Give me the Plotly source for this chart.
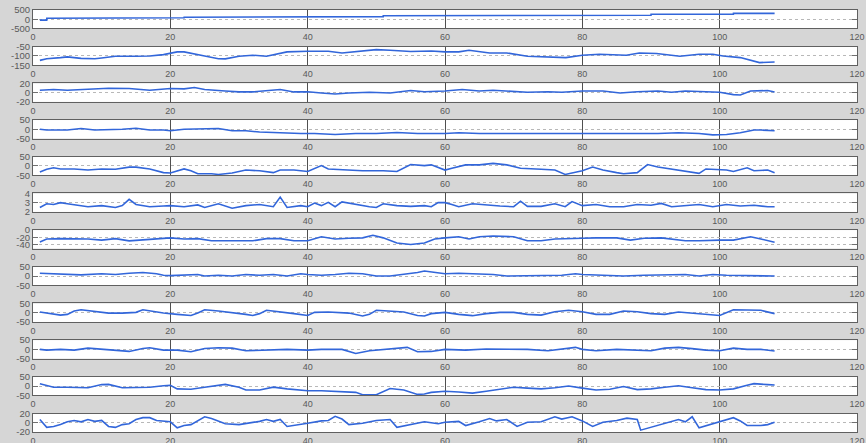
import plotly.graph_objects as go
from plotly.subplots import make_subplots

# ---------------- data ----------------
x1 = [1, 2, 2.01, 8, 8.01, 22, 22.01, 35, 35.01, 51, 51.01, 65, 65.01, 90, 90.01, 102, 102.01, 108]
y1 = [-50, -50, 50, 50, 80, 80, 110, 110, 140, 140, 190, 190, 220, 220, 270, 270, 320, 320]

x2 = [1, 2, 4, 5, 7, 9, 10, 12, 15, 17, 19, 20, 21, 22, 23, 25, 27, 28, 30, 32, 34, 36, 37, 40, 43, 45, 48, 50, 52, 55, 58, 60,
      62, 63.5, 66.5, 69, 72, 75, 77.6, 80, 82.5, 86.4, 88.3, 90.8, 94.2, 97, 99, 100.5, 103, 105.8, 108]
y2 = [-124, -115, -109, -105, -113, -115, -111, -102, -102, -100, -93, -84, -78, -78, -84, -100, -115, -116, -102, -96, -102, -87, -78, -75, -75, -84, -73, -66, -69, -76, -73, -78,
      -78, -69, -84, -84, -102, -105, -109, -96, -91, -96, -84, -87, -102, -91, -91, -100, -109, -136, -133]

x3 = [1, 3, 5, 8, 11, 14, 17, 20, 22, 23.5, 25, 28, 30, 32, 34, 36, 38, 40, 42, 44, 46, 49, 52, 55, 57, 60,
      62.5, 65, 67, 70, 72, 75, 77, 80, 83, 85.5, 88, 91, 93, 95, 98, 100, 102, 103, 104.5, 107, 108]
y3 = [5, 6.6, 5, 6.6, 9.5, 8.8, 5, 8.8, 8, 11, 6.6, 3.6, 1.5, 1.5, 3.6, 6.6, 1.5, 2, -0.7, -3, -0.7, 0.7, -0.7, 4.4, 2, 3.6,
      6.6, 3.6, 5, 3, 0.7, 2, 0.7, 3.6, 3.6, -0.7, 2, 3.6, 0.7, 3.6, 1.5, 0.7, -4.4, -5, 3.6, 4.4, 1.5]

x4 = [1, 2, 5, 7, 9, 11, 13, 15, 17, 19, 20, 22, 25, 27, 29, 31, 33, 35, 37, 39, 41, 44, 47, 50, 53, 56, 60,
      62, 65, 70, 75, 80, 85, 88, 91, 94, 97, 99, 101, 103, 105, 106, 107, 108]
y4 = [0, -4, -4, 4, -4, -4, 0, 6, -4, -4, -8, 0, 4, 4, -8, -8, -15, -19, -19, -23, -23, -28, -23, -23, -17, -23, -23,
      -19, -23, -23, -23, -23, -23, -27, -23, -19, -23, -30, -28, -19, -4, -4, -8, -8]

x5 = [1, 2, 3, 4, 6, 8, 10, 12, 14, 15, 17, 19, 20, 21, 22, 23, 24, 26, 27, 29, 31, 33, 35, 36, 38, 40, 42, 43, 45, 48, 51, 53, 55, 57, 58, 60,
      61, 63, 65, 67, 69, 71, 74, 76, 77.5, 78.5, 80, 81.5, 83, 85, 86, 88, 89.5, 91, 93, 95, 97, 98, 99, 101, 102, 104, 105, 107, 108]
y5 = [-32, -18, -10, -16, -16, -22, -16, -18, -6, -6, -16, -36, -38, -26, -16, -26, -42, -42, -46, -38, -22, -26, -36, -22, -22, -30, 2, -16, -20, -26, -26, -30, 8, 2, 6, -22,
      -12, 6, 6, 14, 6, -12, -18, -22, -46, -38, -26, -6, -22, -36, -42, -36, 8, -6, -18, -30, -40, -16, -18, -22, -30, -10, -26, -22, -36]

x6 = [1, 2, 3, 4, 5, 7, 8, 10, 12, 13, 14, 15, 17, 19, 20, 22, 24, 25, 27, 29, 31, 33, 35, 36, 37, 39, 40, 41, 42, 43, 44, 45, 47, 49, 50, 51, 53, 55, 57, 58, 59, 60,
      61, 62, 64, 66, 68, 70, 71, 72, 74, 76, 77.5, 78.5, 80, 82, 84, 86, 88, 90, 91.5, 93, 95, 97, 99, 100, 101, 103, 105, 107, 108]
y6 = [2.48, 2.88, 2.8, 3.0, 2.88, 2.72, 2.56, 2.68, 2.48, 2.68, 3.36, 2.8, 2.56, 2.64, 2.68, 2.56, 2.76, 2.48, 2.88, 2.4, 2.68, 2.8, 2.56, 3.6, 2.48, 2.68, 2.56, 2.96, 2.68, 3.04, 2.56, 3.08, 2.8, 2.56, 2.48, 2.88, 2.68, 2.6, 2.68, 2.56, 3.0, 3.0,
      2.8, 2.56, 2.88, 2.72, 2.64, 2.56, 3.16, 2.6, 2.6, 2.88, 2.56, 3.12, 2.68, 2.8, 2.56, 2.56, 2.8, 2.72, 2.92, 2.56, 2.72, 2.8, 2.56, 2.72, 2.8, 2.64, 2.72, 2.56, 2.56]

x7 = [1, 2, 4, 6, 8, 10, 12, 14, 16, 18, 20, 22, 24, 26, 28, 30, 32, 34, 36, 38, 40, 42, 44, 46, 48, 49.5, 51, 53, 55, 57, 58.5, 60,
      62, 63.5, 65, 67, 70, 72, 74, 76, 78, 80, 82, 85, 87, 89, 91.5, 93, 95, 97, 99, 100, 102, 104.5, 106, 108]
y7 = [-32, -24, -23, -23, -24, -27, -23, -29, -27, -23, -21, -24, -23, -29, -29, -27, -29, -23, -23, -29, -29, -18, -24, -22, -21, -14, -21, -35, -39, -35, -24, -21,
      -18, -24, -18, -16, -18, -29, -29, -24, -22, -22, -21, -21, -27, -22, -21, -24, -29, -29, -27, -27, -27, -18, -24, -33]

x8 = [1, 3, 5, 7, 10, 12, 14, 16, 18, 19, 20, 22, 24, 25, 27, 29, 31, 33, 35, 37, 39, 40, 42, 44, 46, 48, 50, 52, 54, 56, 57, 59, 60,
      62, 65, 67, 69, 71, 73, 75, 77, 79, 80, 83, 86, 89, 92, 95, 97, 99, 101, 103, 105, 108]
y8 = [15, 12, 8, 6, 12, 8, 15, 19, 12, 4, 2, 4, 8, 0, 4, 0, 8, 4, 8, 0, 12, 8, 4, 8, 15, 12, 0, 0, 8, 19, 27, 15, 12,
      15, 12, 8, 0, 0, 4, 0, 4, 12, 8, 4, 0, 4, 4, 8, 0, 8, 4, 4, 0, 0]

x9 = [1, 3, 4, 5, 6, 7, 9, 11, 13, 15, 16, 17, 19, 21, 23, 24, 25, 27, 29, 31, 32, 33, 34, 36, 38, 40, 41, 43, 46, 48, 49, 50, 52, 54, 56, 57, 58, 60,
      62, 64, 66, 68, 70, 72, 74, 76, 78, 80, 82, 84, 86, 88, 90, 92, 94, 96, 98, 100, 102, 104, 106, 108]
y9 = [4, -5, -13, -9, 9, 16, 9, -2, -2, 2, 16, 9, -2, -9, -15, -2, 16, 9, 2, -9, -15, -5, 13, 2, -5, -15, 2, 4, -2, -18, -9, 13, 9, 4, -15, -18, -5, 2,
      -9, -16, -5, 2, 2, -9, -13, 5, 13, 5, -9, -9, 9, 5, -5, -9, 4, -2, -11, -15, 16, 16, 13, -5]

x10 = [1, 2, 4, 6, 8, 10, 12, 14, 16, 17, 19, 21, 23, 25, 27, 29, 31, 33, 35, 37, 40, 42, 45, 47, 49, 51, 53, 54.5, 56, 58, 60,
       63, 66, 69, 72, 75, 78, 79, 80, 82, 85, 88, 90, 92, 94, 96, 98, 100, 101, 102, 104, 106, 108]
y10 = [0, -4, 0, -4, 7, 0, -4, -11, 5, 9, -4, -4, -13, 5, 9, 7, -7, -4, 0, 0, -4, 0, 0, -22, -7, 0, 7, 11, -13, -11, 0,
       -4, 2, 0, 0, -7, 4, 11, 0, -7, 0, -4, -7, 7, 11, 4, -4, -7, 0, 7, 0, 0, -9]

x11 = [1, 3, 5, 7, 8, 10, 11, 13, 15, 17, 19, 20, 21, 23, 25, 28, 30, 31, 33, 35, 37, 39, 40, 42, 45, 47, 48, 50, 52, 54, 56, 57, 58, 60,
       62, 64, 66, 68, 70, 72, 74, 76, 78, 80, 82, 84, 86, 88, 90, 92, 94, 96, 98, 100, 102, 104, 105, 107, 108]
y11 = [13, -6, -6, -6, -9, 8, 9, -9, -9, -6, 2, 4, -15, -17, -6, 9, -6, -21, -21, -6, -15, -21, -25, -25, -28, -34, -47, -47, -13, -21, -45, -43, -34, -28,
       -32, -38, -28, -15, -6, -11, -15, -9, 0, -11, -21, -17, -2, -19, -15, -6, 2, -9, -19, -21, -15, 4, 13, 8, 6]

x12 = [1, 2, 3, 4, 5, 6, 7, 8, 9, 10, 11, 12, 13, 14, 15, 16, 17, 18, 20, 21, 22, 23, 25, 26, 28, 30, 33, 34, 35, 36, 37, 38, 40, 42, 43, 44, 45, 46, 48, 50, 52, 53, 55, 57, 59, 60,
       62, 63, 65, 66.5, 67.5, 69, 70.5, 72, 74, 76, 77, 78.5, 80, 81.5, 83, 85, 86.5, 88, 88.5, 90, 92, 94, 95, 96, 97, 99, 100, 102, 103, 104, 106, 107, 108]
y12 = [7, -10, -8, -4, 2, 5, 2, 7, 3, 5, -8, -10, -4, -2, 7, 11, 11, 5, 2, -11, -6, -4, 13, 9, -2, -4, 3, 7, 3, 7, -8, -6, -1, 4, 5, 14, 8, -4, -1, 5, 7, -10, -4, 2, -2, 1,
       3, -6, 2, 9, 4, 7, -8, 1, 2, 13, 8, 13, 4, -8, 1, 5, 10, 7, -16, -10, -2, 7, 2, 13, -11, -2, 2, 11, 4, -6, -6, -4, 1]

xs = [x1, x2, x3, x4, x5, x6, x7, x8, x9, x10, x11, x12]
ys = [y1, y2, y3, y4, y5, y6, y7, y8, y9, y10, y11, y12]

y_ranges = [[-500, 500], [-150, -50], [-20, 20], [-50, 50], [-50, 50], [2, 4],
            [-50, 0], [-50, 50], [-50, 50], [-50, 50], [-50, 50], [-20, 20]]
y_ticks = [[500, 0, -500], [-50, -100, -150], [20, 0, -20], [50, 0, -50], [50, 0, -50], [4, 3, 2],
           [0, -20, -40], [50, 0, -50], [50, 0, -50], [50, 0, -50], [50, 0, -50], [20, 0, -20]]
x_ticks = [0, 20, 40, 60, 80, 100, 120]

# ---------------- figure ----------------
n = len(xs)
fig = make_subplots(rows=n, cols=1, vertical_spacing=0.0431)

for i in range(n):
    fig.add_trace(go.Scatter(x=xs[i], y=ys[i], mode="lines",
                             line=dict(color="#3266da", width=1.6),
                             showlegend=False), row=i + 1, col=1)
    fig.update_xaxes(range=[0, 120], tickvals=x_ticks, ticktext=[str(t) for t in x_ticks],
                     showgrid=True, gridcolor="#505050", gridwidth=1,
                     showline=True, linecolor="#606060", linewidth=1, mirror=True,
                     ticks="", zeroline=False, automargin=False,
                     tickfont=dict(size=9, color="#5a5a5a", family="Liberation Sans"),
                     row=i + 1, col=1)
    fig.update_yaxes(range=y_ranges[i], tickvals=y_ticks[i], ticktext=[str(t) for t in y_ticks[i]],
                     showgrid=True, gridcolor="#b8b8b8", griddash="dot", gridwidth=1,
                     showline=True, linecolor="#606060", linewidth=1, mirror="ticks",
                     ticks="inside", ticklen=5, tickcolor="#707070",
                     zeroline=False, automargin=False,
                     tickfont=dict(size=9.5, color="#5a5a5a", family="Liberation Sans"),
                     row=i + 1, col=1)

fig.update_layout(width=866, height=443,
                  margin=dict(l=33, r=9, t=10, b=11),
                  paper_bgcolor="#d6d6d6", plot_bgcolor="#ffffff",
                  showlegend=False)

fig.write_html("out.html", config={"displayModeBar": False},
               post_script="document.body.style.margin='0px';document.body.style.overflow='hidden';")
